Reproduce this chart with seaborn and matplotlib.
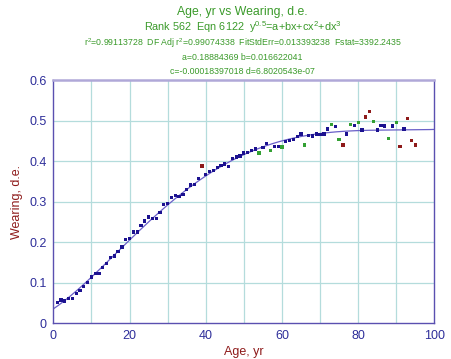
import numpy as np
import pandas as pd
import matplotlib
matplotlib.use("Agg")
import matplotlib.pyplot as plt
import seaborn as sns

# ---- data ----
age = list(range(1, 96))
wearing = [
    0.051, 0.0575, 0.055, 0.061, 0.062, 0.073, 0.081, 0.090, 0.101, 0.114,
    0.123, 0.123, 0.137, 0.148, 0.162, 0.166, 0.178, 0.188, 0.206, 0.209,
    0.225, 0.225, 0.242, 0.2526, 0.262, 0.258, 0.259, 0.274, 0.293, 0.295,
    0.311, 0.315, 0.3136, 0.3185, 0.330, 0.341, 0.343, 0.358, 0.388, 0.367,
    0.3736, 0.377, 0.384, 0.390, 0.393, 0.387, 0.406, 0.410, 0.413, 0.420,
    0.4205, 0.426, 0.430, 0.420, 0.433, 0.4435, 0.427, 0.436, 0.437, 0.4346,
    0.448, 0.451, 0.453, 0.461, 0.4667, 0.440, 0.4625, 0.462, 0.4667, 0.465,
    0.4667, 0.479, 0.491, 0.486, 0.453, 0.440, 0.4667, 0.491, 0.487, 0.495,
    0.4765, 0.509, 0.5225, 0.498, 0.4765, 0.488, 0.4864, 0.456, 0.4864, 0.496,
    0.437, 0.479, 0.505, 0.451, 0.440,
]
green_ages = [54, 57, 60, 66, 73, 75, 78, 80, 84, 88, 90]
red_ages = [39, 76, 82, 83, 91, 93, 94, 95]

# fit coefficients (from the chart subtitle)
a, b, c, d = 0.18884369, 0.016622041, -0.00018397018, 6.8020543e-07

cat = []
for x in age:
    if x in red_ages:
        cat.append("red")
    elif x in green_ages:
        cat.append("green")
    else:
        cat.append("blue")
df = pd.DataFrame({"age": age, "wearing": wearing, "cat": cat})

xf = np.linspace(0, 100, 401)
fit = pd.DataFrame({"age": xf, "wearing": (a + b * xf + c * xf**2 + d * xf**3) ** 2})

sns.set_style("white")
plt.rcParams["font.family"] = ["Liberation Sans", "DejaVu Sans"]

fig = plt.figure(figsize=(4.52, 3.59), dpi=100)
ax = fig.add_axes([0.118, 0.0994, 0.843, 0.6776])

grid_c = "#b4dcdc"
for gx in range(10, 100, 10):
    ax.axvline(gx, color=grid_c, lw=0.9, zorder=0)
for gy in np.arange(0.1, 0.6, 0.1):
    ax.axhline(gy, color=grid_c, lw=0.9, zorder=0)

sns.lineplot(data=fit, x="age", y="wearing", ax=ax, color="#6a60c8", lw=0.9, zorder=2)
palette = {"blue": "#1c1290", "green": "#33a033", "red": "#8e1a1a"}
sns.scatterplot(data=df, x="age", y="wearing", hue="cat", palette=palette, ax=ax,
                marker="s", s=5.5, linewidth=0, legend=False, zorder=3)

ax.set_xlim(0, 100)
ax.set_ylim(0, 0.6)
ax.set_xticks([0, 20, 40, 60, 80, 100])
ax.set_xticks(range(10, 100, 20), minor=True)
ax.set_yticks([0, 0.1, 0.2, 0.3, 0.4, 0.5, 0.6])
ax.set_yticklabels(["0", "0.1", "0.2", "0.3", "0.4", "0.5", "0.6"])
ax.set_xticklabels(["0", "20", "40", "60", "80", "100"])
tick_c = "#2e2e9a"
ax.tick_params(axis="both", which="both", direction="out", colors="#5a50b0",
               labelcolor=tick_c, labelsize=9, length=4, width=0.8, pad=1)

for s in ["left", "bottom", "right"]:
    ax.spines[s].set_color("#5a50b0")
    ax.spines[s].set_linewidth(1.0)
ax.spines["top"].set_color("#b0a8d8")
ax.spines["top"].set_linewidth(1.8)

lab_c = "#8e1a1a"
ax.set_xlabel("Age, yr", color=lab_c, fontsize=9, labelpad=3)
ax.set_ylabel("Wearing, d.e.", color=lab_c, fontsize=9, labelpad=4)

tc = "#3a9a2a"
cx = 0.537
fig.text(cx, 1 - 12 / 359, "Age, yr vs Wearing, d.e.", color=tc, fontsize=8.8,
         ha="center", va="center")
fig.text(cx, 1 - 27 / 359, "Rank 562  Eqn 6122  $\\mathregular{y^{0.5}}$=a+bx+cx$\\mathregular{^2}$+dx$\\mathregular{^3}$",
         color=tc, fontsize=7.8, ha="center", va="center")
fig.text(cx, 1 - 43 / 359,
         "r$\\mathregular{^2}$=0.99113728  DF Adj r$\\mathregular{^2}$=0.99074338  FitStdErr=0.013393238  Fstat=3392.2435",
         color=tc, fontsize=6.3, ha="center", va="center")
fig.text(cx, 1 - 57 / 359, "a=0.18884369 b=0.016622041", color=tc, fontsize=6.3,
         ha="center", va="center")
fig.text(cx, 1 - 71 / 359, "c=-0.00018397018 d=6.8020543e-07", color=tc, fontsize=6.3,
         ha="center", va="center")

fig.savefig("out.png", dpi=100)
